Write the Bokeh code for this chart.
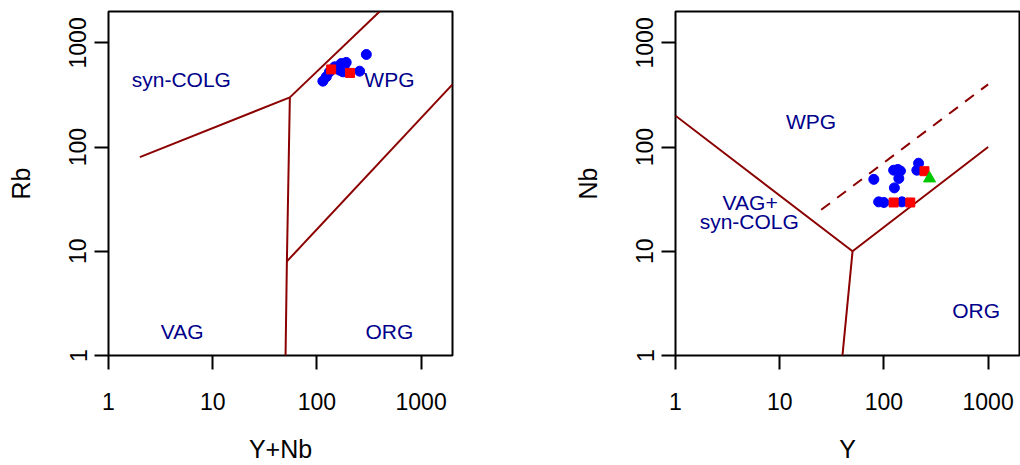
from bokeh.plotting import figure
from bokeh.layouts import row
from bokeh.models import FixedTicker, CustomJSTickFormatter, Range1d, Label
from bokeh.embed import file_html
from bokeh.resources import INLINE

# ---------------- data ----------------
# Left panel: Rb vs Y+Nb
left_blue_ynb = [298, 171, 191, 183, 165, 178, 257, 132, 123, 114, 148]
left_blue_rb = [774, 634, 649, 600, 547, 527, 535, 527, 472, 429, 589]
left_red_ynb = [137, 208]
left_red_rb = [556, 515]

# Right panel: Nb vs Y
right_blue_y = [80, 124, 136, 144, 139, 126, 215, 207, 89, 100, 149]
right_blue_nb = [49, 60, 61, 59, 50, 40.6, 70, 60, 29.8, 29.4, 29.8]
right_red_y = [124, 179, 245]
right_red_nb = [29.4, 29.4, 58.7]
right_green_y = [274]
right_green_nb = [50]

# Discrimination boundaries (Pearce et al. 1984)
rb_lines_x = [[2, 55], [55, 400], [55, 51.5, 50], [51.5, 2000]]
rb_lines_y = [[80, 300], [300, 2000], [300, 8, 1], [8, 400]]
nb_lines_x = [[1, 50, 1000], [50, 40]]
nb_lines_y = [[200, 10, 100], [10, 1]]
nb_dash_x = [25, 1000]
nb_dash_y = [25, 400]

# Field labels
rb_field_names = ["syn-COLG", "WPG", "VAG", "ORG"]
rb_field_x = [5, 496, 5.1, 496]
rb_field_y = [449, 449, 1.7, 1.7]
nb_field_names = ["WPG", "VAG+", "syn-COLG", "ORG"]
nb_field_x = [20, 5.2, 5.1, 767]
nb_field_y = [177, 29.6, 19.5, 2.7]

tick_values = [1, 10, 100, 1000]

LINE = "#8B0000"
LABEL = "#00008B"
FONT = "Liberation Sans"


def make_fig(bl, br, xlabel, ylabel):
    p = figure(x_axis_type="log", y_axis_type="log",
               x_range=Range1d(1, 2000), y_range=Range1d(1, 2000),
               frame_width=344, frame_height=344,
               min_border_left=bl, min_border_right=br,
               min_border_top=11, min_border_bottom=110,
               output_backend="svg", toolbar_location=None)
    p.grid.visible = False
    p.outline_line_color = "black"
    p.outline_line_width = 2
    p.background_fill_color = "white"
    p.border_fill_color = "white"
    for ax in (p.xaxis[0], p.yaxis[0]):
        ax.ticker = FixedTicker(ticks=tick_values, minor_ticks=[])
        ax.formatter = CustomJSTickFormatter(code="return Math.round(tick).toString();")
        ax.axis_line_color = None
        ax.major_tick_line_color = "black"
        ax.major_tick_line_width = 2
        ax.major_tick_in = 0
        ax.major_tick_out = 14
        ax.minor_tick_line_color = None
        ax.major_label_text_font = FONT
        ax.major_label_text_font_size = "23px"
        ax.major_label_text_color = "black"
        ax.axis_label_text_font = FONT
        ax.axis_label_text_font_size = "25px"
        ax.axis_label_text_font_style = "normal"
        ax.axis_label_text_color = "black"
    p.xaxis.axis_label = xlabel
    p.yaxis.axis_label = ylabel
    p.xaxis.major_label_standoff = 23
    p.xaxis.axis_label_standoff = 22
    p.yaxis.major_label_orientation = "vertical"
    p.yaxis.major_label_standoff = 8
    p.yaxis.axis_label_standoff = 32
    return p


def add_labels(p, names, xs, ys):
    for n, x, y in zip(names, xs, ys):
        p.add_layout(Label(x=x, y=y, text=n, text_align="center", text_baseline="middle",
                           text_font=FONT, text_font_size="21px", text_color=LABEL))


# Left panel
p1 = make_fig(108, 58, "Y+Nb", "Rb")
p1.multi_line(rb_lines_x, rb_lines_y, line_color=LINE, line_width=2)
add_labels(p1, rb_field_names, rb_field_x, rb_field_y)
p1.scatter(left_blue_ynb, left_blue_rb, marker="circle", size=10, fill_color="blue", line_color="blue")
p1.scatter(left_red_ynb, left_red_rb, marker="square", size=9, fill_color="red", line_color="red")

# Right panel
p2 = make_fig(165, 1, "Y", "Nb")
p2.multi_line(nb_lines_x, nb_lines_y, line_color=LINE, line_width=2)
p2.line(nb_dash_x, nb_dash_y, line_color=LINE, line_width=2, line_dash="11 9")
add_labels(p2, nb_field_names, nb_field_x, nb_field_y)
p2.scatter(right_blue_y, right_blue_nb, marker="circle", size=10, fill_color="blue", line_color="blue")
p2.scatter(right_red_y, right_red_nb, marker="square", size=9, fill_color="red", line_color="red")
p2.scatter(right_green_y, right_green_nb, marker="triangle", size=12, fill_color="#00C800", line_color="#00C800")

layout = row(p1, p2)
open("out.html", "w").write(file_html(layout, INLINE))
